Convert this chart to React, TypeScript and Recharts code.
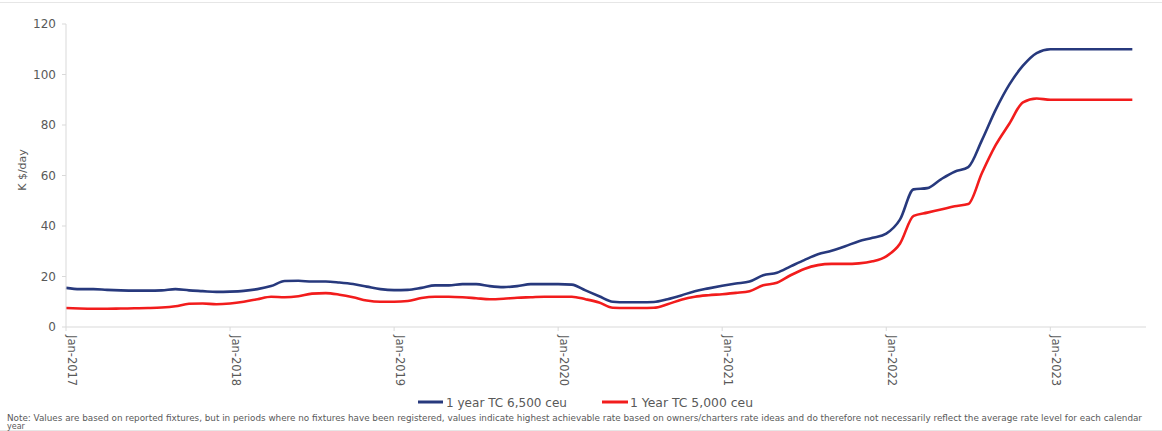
import React from 'react';
import { LineChart, Line, XAxis, YAxis } from 'recharts';

// Monthly 1-year time charter rates, Jan-2017 .. Jul-2023 (K $/day)
const rate6500: number[] = [
  15.5, 15, 15, 14.7, 14.5, 14.4, 14.4, 14.5, 15, 14.5, 14.2, 13.9,
  14, 14.3, 15, 16.2, 18.2, 18.3, 18, 18, 17.6, 17, 16, 15,
  14.6, 14.7, 15.5, 16.5, 16.5, 17, 17, 16.2, 15.8, 16.2, 17, 17,
  17, 16.8, 14.5, 12.2, 10, 9.8, 9.8, 9.9, 11, 12.5, 14.2, 15.3,
  16.3, 17.2, 18, 20.5, 21.5, 24, 26.5, 28.8, 30.2, 32, 34, 35.3,
  37, 42.5, 54.5, 55, 58.5, 61.5, 63.3, 74, 86, 96, 103.5, 108.5,
  110, 110, 110, 110, 110, 110, 110,
];

const rate5000: number[] = [
  7.5, 7.3, 7.2, 7.2, 7.3, 7.4, 7.5, 7.7, 8.2, 9.2, 9.3, 9.0,
  9.3, 10, 11, 12, 11.8, 12.2, 13.2, 13.4, 12.8, 11.8, 10.5, 10,
  10, 10.3, 11.5, 12, 12, 11.8, 11.4, 11, 11.2, 11.6, 11.8, 12,
  12, 12, 11, 9.7, 7.6, 7.5, 7.5, 7.6, 9, 10.8, 12, 12.6,
  13, 13.5, 14.2, 16.5, 17.5, 20.5, 23, 24.5, 25, 25, 25.2, 26,
  28, 33, 44, 45.3, 46.5, 47.8, 48.7, 61, 72, 80.5, 89, 90.5,
  90, 90, 90, 90, 90, 90, 90,
];

const tickMonths = [0, 12, 24, 36, 48, 60, 72];
const tickLabels = ['Jan-2017', 'Jan-2018', 'Jan-2019', 'Jan-2020', 'Jan-2021', 'Jan-2022', 'Jan-2023'];
const yTicks = [0, 20, 40, 60, 80, 100, 120];

const seriesNames = ['1 year TC 6,500 ceu', '1 Year TC 5,000 ceu'];
const noteText =
  'Note: Values are based on reported fixtures, but in periods where no fixtures have been registered, values indicate highest achievable rate based on owners/charters rate ideas and do therefore not necessarily reflect the average rate level for each calendar';

const data = rate6500.map((v, i) => ({ m: i, big: v, small: rate5000[i] }));

const BLUE = '#27397d';
const RED = '#f21c1c';
const AXIS = '#d9d9d9';
const TEXT = '#595959';
const FONT = '"DejaVu Sans", sans-serif';

const XTick = ({ x, y, payload }: any) => {
  const idx = tickMonths.indexOf(payload.value);
  return (
    <g transform={`translate(${x},${y})`}>
      <text x={0} y={0} dy={-2} transform="rotate(90)" textAnchor="start" fill={TEXT} fontSize={11.5} fontFamily={FONT}>
        {tickLabels[idx]}
      </text>
    </g>
  );
};

export default function App() {
  return (
    <div style={{ position: 'relative', width: 1162, height: 431, background: '#fff' }}>
      <style>{'body{margin:0}'}</style>
      <LineChart width={1162} height={431} data={data} margin={{ top: 24, right: 16, left: 20, bottom: 44 }}>
        <XAxis
          dataKey="m"
          type="number"
          domain={[0, 79]}
          ticks={tickMonths}
          interval={0}
          height={60}
          tick={<XTick />}
          tickSize={4}
          tickMargin={4}
          axisLine={{ stroke: AXIS }}
          tickLine={{ stroke: AXIS }}
        />
        <YAxis
          width={46}
          domain={[0, 120]}
          ticks={yTicks}
          tickSize={4}
          tickMargin={6}
          axisLine={{ stroke: AXIS }}
          tickLine={{ stroke: AXIS }}
          tick={{ fill: TEXT, fontSize: 12, fontFamily: FONT }}
        />
        <Line type="monotone" dataKey="big" stroke={BLUE} strokeWidth={2.6} dot={false} isAnimationActive={false} />
        <Line type="monotone" dataKey="small" stroke={RED} strokeWidth={2.6} dot={false} isAnimationActive={false} />
      </LineChart>

      <svg width={1162} height={431} style={{ position: 'absolute', left: 0, top: 0, pointerEvents: 'none' }}>
        <line x1={0} x2={1162} y1={2.5} y2={2.5} stroke="#e6e6e6" />
        <line x1={0} x2={1162} y1={430.5} y2={430.5} stroke="#e6e6e6" />
        <text transform="translate(26,170) rotate(-90)" textAnchor="middle" fill={TEXT} fontSize={11} fontFamily={FONT}>
          K $/day
        </text>

        <line x1={418} x2={443} y1={402} y2={402} stroke={BLUE} strokeWidth={3} />
        <text x={446} y={406.5} fill={TEXT} fontSize={12.5} fontFamily={FONT} textLength={121} lengthAdjust="spacingAndGlyphs">
          {seriesNames[0]}
        </text>
        <line x1={602} x2={628} y1={402} y2={402} stroke={RED} strokeWidth={3} />
        <text x={630} y={406.5} fill={TEXT} fontSize={12.5} fontFamily={FONT} textLength={123} lengthAdjust="spacingAndGlyphs">
          {seriesNames[1]}
        </text>

        <text x={7} y={421} fill={TEXT} fontSize={8} fontFamily={FONT} textLength={1135} lengthAdjust="spacingAndGlyphs">
          {noteText}
        </text>
        <text x={7} y={429} fill={TEXT} fontSize={8} fontFamily={FONT}>
          year
        </text>
      </svg>
    </div>
  );
}
